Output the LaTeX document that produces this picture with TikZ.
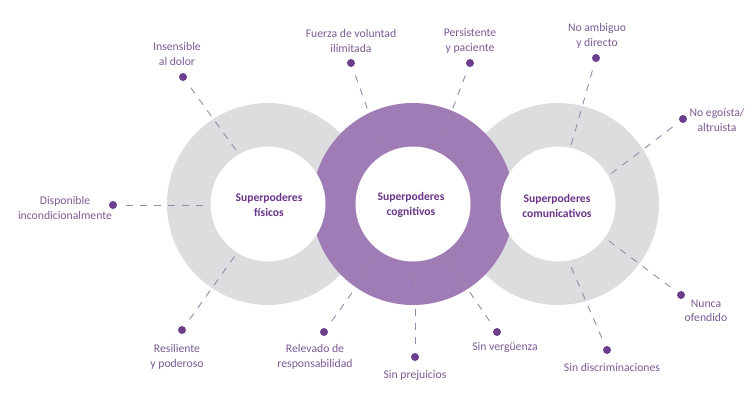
\documentclass[tikz,border=0pt]{standalone}
\usepackage{fontspec}
\setmainfont{Carlito}
\definecolor{ringgrey}{HTML}{DCDDDF}
\definecolor{ringpurple}{HTML}{A07CB7}
\definecolor{dotpurple}{HTML}{6B3F8C}
\definecolor{labelpurple}{HTML}{7C5B95}
\definecolor{titlepurple}{HTML}{6A3589}
\definecolor{dashcol}{HTML}{9A88AC}
\begin{document}
\begin{tikzpicture}[x=1pt,y=-1pt,
  dotnode/.style={circle,fill=dotpurple,inner sep=0pt,minimum size=8pt},
  dashline/.style={draw=dashcol,line width=0.9pt,dash pattern=on 7pt off 7pt,shorten <=9pt},
  lbl/.style={text=labelpurple,align=center,font=\fontsize{11.7}{14.5}\selectfont,inner sep=0pt},
  ttl/.style={text=titlepurple,align=center,font=\fontsize{11.6}{14.5}\selectfont\bfseries,inner sep=0pt}]
\useasboundingbox (0,0) rectangle (754,400);
\fill[white] (0,0) rectangle (754,400);
% ring centres
\coordinate (cL) at (268,204);
\coordinate (cM) at (413,204);
\coordinate (cR) at (558,204);
% rings
\fill[ringgrey] (cL) circle[radius=101];
\fill[ringgrey] (cR) circle[radius=101];
\fill[ringpurple] (cM) circle[radius=101];
% dots
\node[dotnode] (d1) at (183,77) {};
\node[dotnode] (d2) at (113,205) {};
\node[dotnode] (d3) at (182,330) {};
\node[dotnode] (d4) at (351,63) {};
\node[dotnode] (d5) at (470,63) {};
\node[dotnode] (d6) at (596,58) {};
\node[dotnode] (d7) at (683,119) {};
\node[dotnode] (d8) at (681,295) {};
\node[dotnode] (d9) at (607,350) {};
\node[dotnode] (d10) at (497,332) {};
\node[dotnode] (d11) at (415,357) {};
\node[dotnode] (d12) at (324,332) {};
% line ends on inner circles
\coordinate (e1) at (238,153);
\coordinate (e2) at (207,205);
\coordinate (e3) at (237,253);
\coordinate (e4) at (382,150);
\coordinate (e5) at (437,150);
\coordinate (e6) at (570,149);
\coordinate (e7) at (608,176);
\coordinate (e8) at (605,238);
\coordinate (e9) at (569,262);
\coordinate (e10) at (443,253);
\coordinate (e11) at (415,261);
\coordinate (e12) at (381,252);
\foreach \i in {1,...,12} {\draw[dashline] (d\i) -- (e\i);}
% inner white disks
\fill[white] (cL) circle[radius=57.5];
\fill[white] (cM) circle[radius=57.5];
\fill[white] (cR) circle[radius=57.5];
% titles
\node[ttl] (tL) at (269,205) {Superpoderes\\físicos};
\node[ttl] (tM) at (411,205) {Superpoderes\\cognitivos};
\node[ttl] (tR) at (557,206) {Superpoderes\\comunicativos};
% labels
\node[lbl] (l1) at (177,54) {Insensible\\al dolor};
\node[lbl] (l2) at (65,208) {Disponible\\incondicionalmente};
\node[lbl] (l3) at (177,357) {Resiliente\\y poderoso};
\node[lbl] (l4) at (351,41) {Fuerza de voluntad\\ilimitada};
\node[lbl] (l5) at (470,41) {Persistente\\y paciente};
\node[lbl] (l6) at (597,36) {No ambiguo\\y directo};
\node[lbl] (l7) at (717,120) {No egoísta/\\altruista};
\node[lbl] (l8) at (706,311) {Nunca\\ofendido};
\node[lbl] (l9) at (612,367) {Sin discriminaciones};
\node[lbl] (l10) at (505,347) {Sin vergüenza};
\node[lbl] (l11) at (415,375) {Sin prejuicios};
\node[lbl] (l12) at (315,357) {Relevado de\\responsabilidad};
\end{tikzpicture}
\end{document}
